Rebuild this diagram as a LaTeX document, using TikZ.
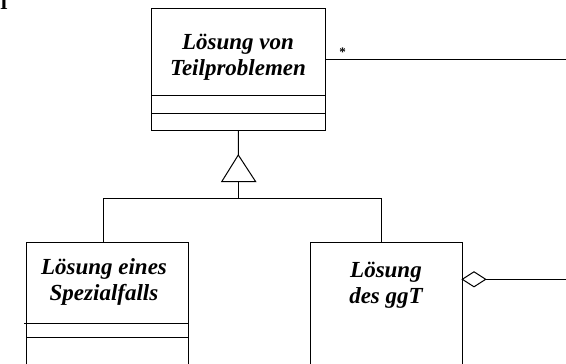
\documentclass[tikz,border=0pt]{standalone}
\usepackage{fontspec}
\setmainfont{Liberation Serif}
\begin{document}
\tikzset{
  umlline/.style={line width=1pt, draw=black},
  clsbox/.style={umlline, rectangle, inner sep=0pt},
  clstext/.style={font=\fontsize{23}{26}\selectfont\bfseries\itshape, align=center, inner sep=0pt},
}
\begin{tikzpicture}[x=1pt,y=1pt]
\clip (0,0) rectangle (566,364);
% stray glyph top-left
\node[font=\fontsize{20}{20}\selectfont\bfseries, anchor=base, inner sep=0pt] (mark) at (4,354) {I};
% top class
\node[clsbox, minimum width=174.7pt, minimum height=122pt] (top) at (238.35,294.3) {};
\draw[umlline] (151,268) -- (325.7,268);
\draw[umlline] (151,250) -- (325.7,250);
\node[clstext, anchor=base] (toptext) at (238,288) {Lösung von\\Teilproblemen};
% left class
\node[clsbox, minimum width=162.3pt, minimum height=141.3pt] (left) at (107.15,50.65) {};
\draw[umlline] (24,40.7) -- (188.3,40.7);
\draw[umlline] (26,26.7) -- (188.3,26.7);
\node[clstext, anchor=base] (lefttext) at (104,63.3) {Lösung eines\\Spezialfalls};
% right class
\node[clsbox, minimum width=151.6pt, minimum height=141.3pt] (right) at (386.5,50.65) {};
\node[clstext, anchor=base] (righttext) at (386,60) {Lösung\\des ggT};
% generalization
\coordinate (apex) at (238.3,209);
\coordinate (tbl) at (221.7,182.3);
\coordinate (tbr) at (255.7,182.3);
\coordinate (tribase) at (238.3,182.3);
\coordinate (junc) at (238.3,165.7);
\coordinate (lj) at (103.3,165.7);
\coordinate (rj) at (381.5,165.7);
\draw[umlline] (top.south) -- (apex);
\draw[umlline] (apex) -- (tbl) -- (tbr) -- cycle;
\draw[umlline] (tribase) -- (junc);
\draw[umlline] (lj) -- (rj);
\draw[umlline] (lj) -- (lj |- left.north);
\draw[umlline] (rj) -- (rj |- right.north);
% association with multiplicity
\coordinate (aend) at (566,304);
\draw[umlline] (aend -| top.east) -- (aend);
\node[font=\fontsize{13}{14}\selectfont\bfseries, inner sep=0pt] (star) at (342.5,312) {*};
% aggregation
\coordinate (dw) at (462.3,84.7);
\coordinate (dn) at (474,92.2);
\coordinate (de) at (485.7,84.7);
\coordinate (ds) at (474,77.2);
\coordinate (gend) at (566,84.7);
\draw[umlline] (dw) -- (dn) -- (de) -- (ds) -- cycle;
\draw[umlline] (de) -- (gend);
\end{tikzpicture}
\end{document}
